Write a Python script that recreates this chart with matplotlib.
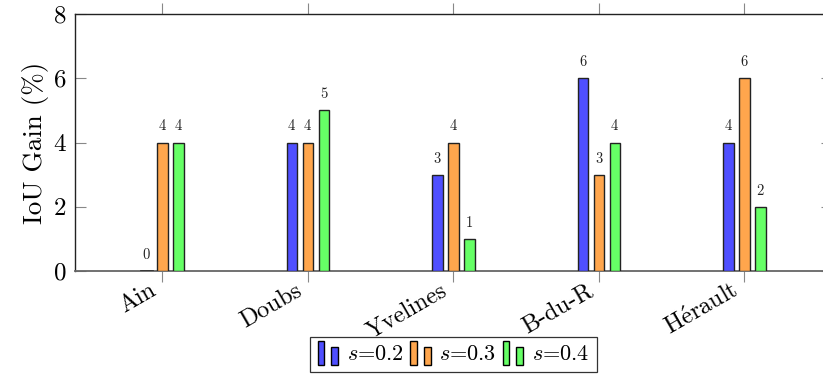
import matplotlib
matplotlib.use("Agg")
import matplotlib.pyplot as plt
import matplotlib.patches as mpatches
import matplotlib.transforms as mtransforms
from matplotlib.legend_handler import HandlerBase
import numpy as np

plt.rcParams['font.family'] = ['cmr10', 'DejaVu Serif']
plt.rcParams['mathtext.fontset'] = 'cm'
plt.rcParams['axes.formatter.use_mathtext'] = True

regions = ["Ain", "Doubs", "Yvelines", "B-du-R", r"H$\acute{\mathrm{e}}$rault"]
gain_s02 = [0, 4, 3, 6, 4]
gain_s03 = [4, 4, 4, 3, 6]
gain_s04 = [4, 5, 1, 4, 2]
series_labels = [r"$s$=0.2", r"$s$=0.3", r"$s$=0.4"]
colors = ["#4f4fff", "#ffa64d", "#66ff66"]


class TwoBarHandler(HandlerBase):
    # pgfplots style ybar legend image: two bars, tall then short
    def create_artists(self, legend, orig_handle, xdescent, ydescent,
                       width, height, fontsize, trans):
        fc = orig_handle.get_facecolor()
        w = width * 0.3
        r1 = mpatches.Rectangle((-xdescent, -ydescent - 0.3 * height), w, height * 1.5,
                                facecolor=fc, edgecolor="black", lw=1.0, transform=trans)
        r2 = mpatches.Rectangle((-xdescent + width * 0.62, -ydescent - 0.3 * height), w, height * 1.1,
                                facecolor=fc, edgecolor="black", lw=1.0, transform=trans)
        return [r1, r2]


fig = plt.figure(figsize=(8.23, 3.75), dpi=100)
ax = fig.add_axes([75 / 823, 104 / 375, 756.6 / 823, 257 / 375])

x = np.arange(len(regions))
offset = 0.11
width = 0.072
handles = []
for i, vals in enumerate([gain_s02, gain_s03, gain_s04]):
    bars = ax.bar(x + (i - 1) * offset, vals, width, color=colors[i],
                  edgecolor="#222222", linewidth=1.0, zorder=3)
    handles.append(bars[0])
    for xi, v in zip(x + (i - 1) * offset, vals):
        if v == 0:
            ax.plot([xi - width / 2, xi + width / 2], [0, 0], color="#333333", lw=2, zorder=4)
        ax.annotate(str(v), (xi, v), xytext=(0, 6.5), textcoords="offset points",
                    ha="center", va="bottom", fontsize=10.5, color="#222222")

ax.set_xlim(-0.6, 4.6)
ax.set_ylim(0, 8)
ax.set_yticks([0, 2, 4, 6, 8])
ax.set_xticks(x)
ax.set_xticklabels(regions, rotation=30, ha="right", rotation_mode="anchor", fontsize=17.5)
ax.tick_params(axis="y", direction="in", length=8, width=0.8, color="#888888",
               labelsize=18, left=True, right=True, pad=6)
ax.tick_params(axis="x", direction="out", length=8, width=0.8, color="#888888",
               top=True, bottom=True, pad=3)
shift = mtransforms.ScaledTranslation(-13 / 100, 7 / 100, fig.dpi_scale_trans)
for lbl in ax.get_xticklabels():
    lbl.set_verticalalignment("top")
    lbl.set_transform(lbl.get_transform() + shift)
ax.set_ylabel("IoU Gain (%)", fontsize=19.5, labelpad=3)

for side in ["top", "left", "right"]:
    ax.spines[side].set_color("#222222")
    ax.spines[side].set_linewidth(1.0)
ax.spines["bottom"].set_color("#666666")
ax.spines["bottom"].set_linewidth(1.3)

leg = ax.legend(handles, series_labels, loc="upper center", bbox_to_anchor=(0.5, -0.255),
                ncol=3, fontsize=16, frameon=True, fancybox=False, edgecolor="black",
                handler_map={h: TwoBarHandler() for h in handles},
                handlelength=1.0, handletextpad=0.3, columnspacing=0.3,
                borderpad=0.35, borderaxespad=0)
leg.get_frame().set_linewidth(0.9)

fig.savefig("out.png", dpi=100)
